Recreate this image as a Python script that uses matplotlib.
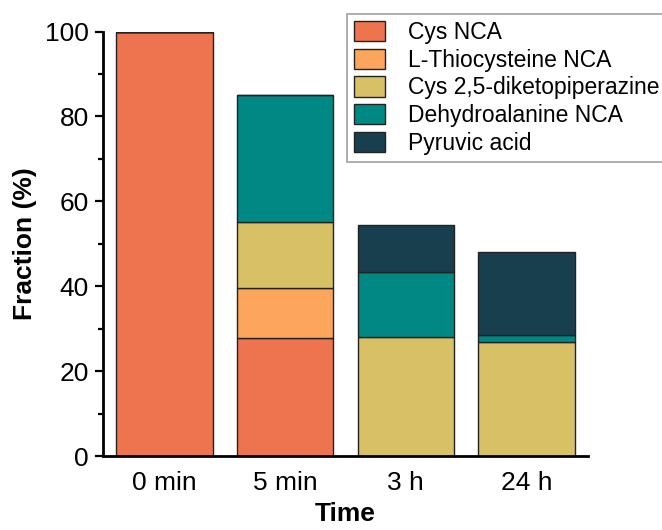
import numpy as np
import matplotlib
matplotlib.use("Agg")
from matplotlib import pyplot as plt

times = ["0 min", "5 min", "3 h", "24 h"]
cys_nca = [100, 27.9, 0, 0]
thio_nca = [0, 11.7, 0, 0]
cys_dkp = [0, 15.6, 28.1, 26.9]
dehydro_nca = [0, 29.8, 15.2, 1.6]
pyruvic = [0, 0, 11.1, 19.6]

series_names = ["Cys NCA", "L-Thiocysteine NCA", "Cys 2,5-diketopiperazine",
                "Dehydroalanine NCA", "Pyruvic acid"]
colors = ["#EE7450", "#FCA55D", "#D7C164", "#008884", "#173F4E"]

plt.rcParams["font.family"] = ["Liberation Sans", "DejaVu Sans"]

fig = plt.figure(figsize=(6.62, 5.30), dpi=100)
ax = fig.add_axes([103 / 662, 74 / 530, 485 / 662, 424.5 / 530])

x = np.arange(len(times))
bottom = np.zeros(len(times))
for name, vals, col in zip(series_names, [cys_nca, thio_nca, cys_dkp, dehydro_nca, pyruvic], colors):
    vals = np.array(vals, dtype=float)
    ax.bar(x, vals, 0.8, bottom=bottom, color=col, edgecolor="#222222",
           linewidth=1.0, label=name)
    bottom += vals

ax.set_xlim(-0.51, 3.51)
ax.set_ylim(0, 100)
ax.set_xticks(x)
ax.set_xticklabels(times)
ax.set_yticks(np.arange(0, 101, 20))
ax.set_yticks(np.arange(10, 100, 20), minor=True)

for s in ["top", "right"]:
    ax.spines[s].set_visible(False)
for s in ["left", "bottom"]:
    ax.spines[s].set_linewidth(2.0)

ax.tick_params(axis="y", which="major", length=6, width=1.6, labelsize=19, pad=4)
ax.tick_params(axis="y", which="minor", length=3.5, width=1.6)
ax.tick_params(axis="x", which="major", length=0, labelsize=19, pad=11)

ax.set_xlabel("Time", fontsize=19, fontweight="bold", labelpad=5)
ax.set_ylabel("Fraction (%)", fontsize=19, fontweight="bold", labelpad=6)

leg = fig.legend(loc="upper left", bbox_to_anchor=(347 / 662, 1 - 14 / 530),
                 fontsize=16.5, frameon=True, fancybox=False, borderaxespad=0,
                 handlelength=1.35, handleheight=1.0, handletextpad=1.0,
                 labelspacing=0.2, borderpad=0.3)
leg.get_frame().set_edgecolor("#888888")
leg.get_frame().set_linewidth(1.2)

fig.savefig("out.png", dpi=100)
